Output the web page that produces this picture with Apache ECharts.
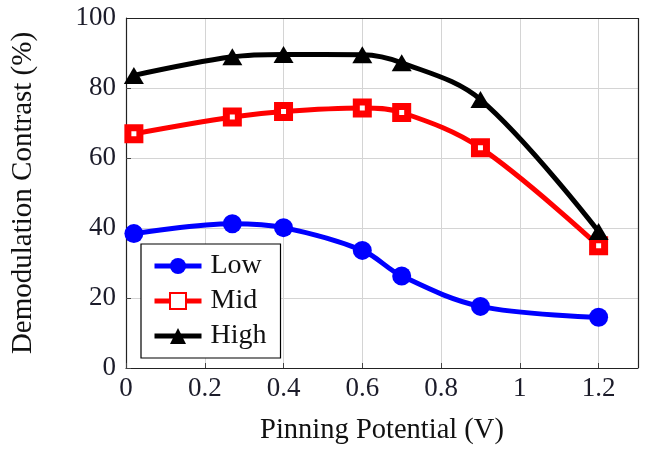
<!DOCTYPE html>
<html>
<head>
<meta charset="utf-8">
<script src="https://cdn.jsdelivr.net/npm/echarts@6/dist/echarts.min.js"></script>
<style>
  html, body { margin: 0; padding: 0; background: #fff; }
  #chart { width: 646px; height: 450px; }
</style>
</head>
<body>
<div id="chart"></div>
<script>
// Demodulation contrast versus pinning potential for three illumination levels
const potential = [0.02, 0.27, 0.4, 0.6, 0.7, 0.9, 1.2];
const lowValues  = [38.4, 41.2, 40.1, 33.6, 26.3, 17.6, 14.5];
const midValues  = [66.9, 71.7, 73.3, 74.3, 73.0, 62.9, 34.9];
const highValues = [83.6, 88.9, 89.6, 89.5, 87.2, 76.7, 39.0];
const seriesNames = ['Low', 'Mid', 'High'];
const xTicks = [0, 0.2, 0.4, 0.6, 0.8, 1, 1.2];
const yTicks = [0, 20, 40, 60, 80, 100];

const FONT = 'Liberation Serif';
const pairs = (ys) => potential.map((x, i) => [x, ys[i]]);

const chart = echarts.init(document.getElementById('chart'), null, { renderer: 'canvas' });

const baseSeries = (name, data, color, symbol, size, extra) => Object.assign({
  name: name,
  type: 'line',
  data: pairs(data),
  smooth: 0.35,
  symbol: symbol,
  symbolSize: size,
  lineStyle: { color: color, width: 5 },
  itemStyle: { color: color },
  z: 3
}, extra || {});

chart.setOption({
  animation: false,
  backgroundColor: '#ffffff',
  textStyle: { fontFamily: FONT },
  grid: { left: 126, right: 8, top: 18, bottom: 81, containLabel: false },
  legend: {
    left: 141,
    top: 244,
    orient: 'vertical',
    itemWidth: 47,
    itemHeight: 20,
    itemGap: 7,
    padding: [8, 14, 8, 11],
    borderColor: '#000',
    borderWidth: 1.2,
    backgroundColor: '#fff',
    lineStyle: { width: 5 },
    textStyle: { fontFamily: FONT, fontSize: 28, lineHeight: 28, color: '#111', padding: [0, 0, 0, 4] },
    data: seriesNames
  },
  xAxis: {
    type: 'value',
    min: 0,
    max: 1.3,
    interval: 0.2,
    name: 'Pinning Potential (V)',
    nameLocation: 'middle',
    nameGap: 48,
    nameTextStyle: { fontFamily: FONT, fontSize: 28.5, color: '#111' },
    axisLine: { show: true, onZero: false, lineStyle: { color: '#222', width: 1.2 } },
    axisTick: { show: true, inside: true, length: 5, lineStyle: { color: '#444' } },
    axisLabel: {
      fontFamily: FONT, fontSize: 27, color: '#1c1c2a', margin: 7,
      showMaxLabel: false,
      formatter: (v) => xTicks.some(t => Math.abs(t - v) < 1e-6) ? String(+v.toFixed(1)) : ''
    },
    splitLine: { show: true, lineStyle: { color: '#d4d4d4', width: 1 } }
  },
  yAxis: {
    type: 'value',
    min: 0,
    max: 100,
    interval: 20,
    name: 'Demodulation Contrast (%)',
    nameLocation: 'middle',
    nameGap: 88,
    nameRotate: 90,
    nameTextStyle: { fontFamily: FONT, fontSize: 29, color: '#111' },
    axisLine: { show: true, onZero: false, lineStyle: { color: '#222', width: 1.2 } },
    axisTick: { show: true, inside: true, length: 5, lineStyle: { color: '#444' } },
    axisLabel: {
      fontFamily: FONT, fontSize: 27, color: '#1c1c2a', margin: 10,
      formatter: (v) => yTicks.includes(v) ? String(v) : ''
    },
    splitLine: { show: true, lineStyle: { color: '#d4d4d4', width: 1 } }
  },
  series: [
    baseSeries('Low', lowValues, '#0000ff', 'circle', 19),
    baseSeries('Mid', midValues, '#ff0000', 'rect', 12, {
      itemStyle: { color: '#ffffff', borderColor: '#ff0000', borderWidth: 7 }
    }),
    baseSeries('High', highValues, '#000000', 'triangle', [20, 17]),
    // frame on the top and right edges of the plot area
    {
      type: 'line',
      data: [],
      markLine: {
        silent: true,
        symbol: 'none',
        label: { show: false },
        lineStyle: { color: '#222', width: 1.2, type: 'solid' },
        data: [
          [{ coord: [0, 100] }, { coord: [1.3, 100] }],
          [{ coord: [1.3, 0] }, { coord: [1.3, 100] }]
        ]
      }
    }
  ]
});
</script>
</body>
</html>
